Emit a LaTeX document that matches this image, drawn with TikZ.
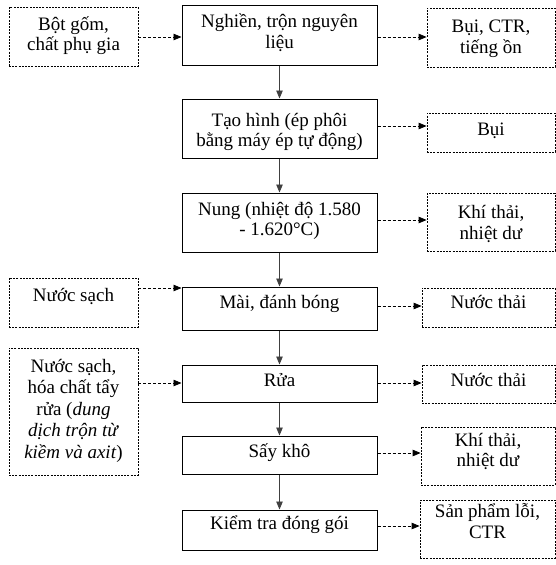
\documentclass[tikz,border=0pt]{standalone}
\usepackage{fontspec}
\setmainfont{Liberation Serif}
\usetikzlibrary{arrows.meta}
\begin{document}
\begin{tikzpicture}[x=1pt,y=-1pt,
 box/.style={draw=black, line width=1pt, inner sep=0pt},
 dbox/.style={draw=black, line width=0.8pt, dash pattern=on 2pt off 1.2pt, inner sep=0pt},
 txt/.style={font=\fontsize{19}{20.5}\selectfont, align=center, inner sep=0pt, anchor=base},
 sarr/.style={draw=black!75, line width=0.9pt, -{Triangle[length=8pt,width=6.5pt]}},
 darr/.style={draw=black, line width=0.8pt, dash pattern=on 3pt off 2pt, -{Triangle[length=8pt,width=6.5pt]}}
]
\fill[white] (0,0) rectangle (556,565);
\useasboundingbox (0,0) rectangle (556,565);

% left input boxes
\node[dbox, minimum width=129, minimum height=59] (L1) at (73.5,36.5) {};
\node[dbox, minimum width=129, minimum height=49] (L2) at (73.5,302.5) {};
\node[dbox, minimum width=129, minimum height=127] (L3) at (73.5,411.5) {};
% centre process boxes
\node[box, minimum width=195, minimum height=60] (C1) at (279.5,35) {};
\node[box, minimum width=195, minimum height=59] (C2) at (279.5,128.5) {};
\node[box, minimum width=195, minimum height=59] (C3) at (279.5,222.5) {};
\node[box, minimum width=195, minimum height=43] (C4) at (279.5,308.5) {};
\node[box, minimum width=195, minimum height=37] (C5) at (279.5,383.5) {};
\node[box, minimum width=195, minimum height=38] (C6) at (279.5,455) {};
\node[box, minimum width=195, minimum height=40] (C7) at (279.5,530) {};
% right output boxes
\node[dbox, minimum width=128, minimum height=59] (R1) at (491,37.5) {};
\node[dbox, minimum width=128, minimum height=39] (R2) at (491,132.5) {};
\node[dbox, minimum width=128, minimum height=58] (R3) at (491,222) {};
\node[dbox, minimum width=133, minimum height=39] (R4) at (488.5,307.5) {};
\node[dbox, minimum width=133, minimum height=38] (R5) at (488.5,384) {};
\node[dbox, minimum width=134, minimum height=58] (R6) at (488,456) {};
\node[dbox, minimum width=135, minimum height=58] (R7) at (487.5,529) {};

% texts (base anchor = baseline of the last line)
\node[txt] (tL1) at (73.5,50.7) {Bột gốm,\\chất phụ gia};
\node[txt] (tL2) at (73.5,301.7) {Nước sạch};
\node[txt, font=\fontsize{19}{21.5}\selectfont] (tL3) at (73.5,458) {Nước sạch,\\hóa chất tẩy\\rửa (\textit{dung}\\\textit{dịch trộn từ}\\\textit{kiềm và axit})};
\node[txt] (tC1) at (279.5,48) {Nghiền, trộn nguyên\\liệu};
\node[txt] (tC2) at (279.5,146.7) {Tạo hình (ép phôi\\bằng máy ép tự động)};
\node[txt] (tC3) at (279.5,235.5) {Nung (nhiệt độ 1.580\\- 1.620°C)};
\node[txt] (tC4) at (279.5,308.3) {Mài, đánh bóng};
\node[txt] (tC5) at (279.5,386.7) {Rửa};
\node[txt] (tC6) at (279.5,457.3) {Sấy khô};
\node[txt] (tC7) at (279.5,529.5) {Kiểm tra đóng gói};
\node[txt] (tR1) at (491,53) {Bụi, CTR,\\tiếng ồn};
\node[txt] (tR2) at (491,135) {Bụi};
\node[txt] (tR3) at (491,239) {Khí thải,\\nhiệt dư};
\node[txt] (tR4) at (488.5,308.3) {Nước thải};
\node[txt] (tR5) at (488.5,386.7) {Nước thải};
\node[txt] (tR6) at (488,466.5) {Khí thải,\\nhiệt dư};
\node[txt] (tR7) at (487.5,538) {Sản phẩm lỗi,\\CTR};

% levels of the dashed connectors
\coordinate (y1) at (0,37);
\coordinate (y2) at (0,126);
\coordinate (y3) at (0,220);
\coordinate (y4a) at (0,288);
\coordinate (y4) at (0,306);
\coordinate (y5) at (0,383);
\coordinate (y6) at (0,453);
\coordinate (y7) at (0,526);

% main flow
\draw[sarr] (C1) -- (C2);
\draw[sarr] (C2) -- (C3);
\draw[sarr] (C3) -- (C4);
\draw[sarr] (C4) -- (C5);
\draw[sarr] (C5) -- (C6);
\draw[sarr] (C6) -- (C7);

% inputs
\draw[darr] (L1.east |- y1) -- (C1.west |- y1);
\draw[darr] (L2.east |- y4a) -- (C4.west |- y4a);
\draw[darr] (L3.east |- y5) -- (C5.west |- y5);

% outputs
\draw[darr] (C1.east |- y1) -- (R1.west |- y1);
\draw[darr] (C2.east |- y2) -- (R2.west |- y2);
\draw[darr] (C3.east |- y3) -- (R3.west |- y3);
\draw[darr] (C4.east |- y4) -- (R4.west |- y4);
\draw[darr] (C5.east |- y5) -- (R5.west |- y5);
\draw[darr] (C6.east |- y6) -- (R6.west |- y6);
\draw[darr] (C7.east |- y7) -- (R7.west |- y7);
\end{tikzpicture}
\end{document}
